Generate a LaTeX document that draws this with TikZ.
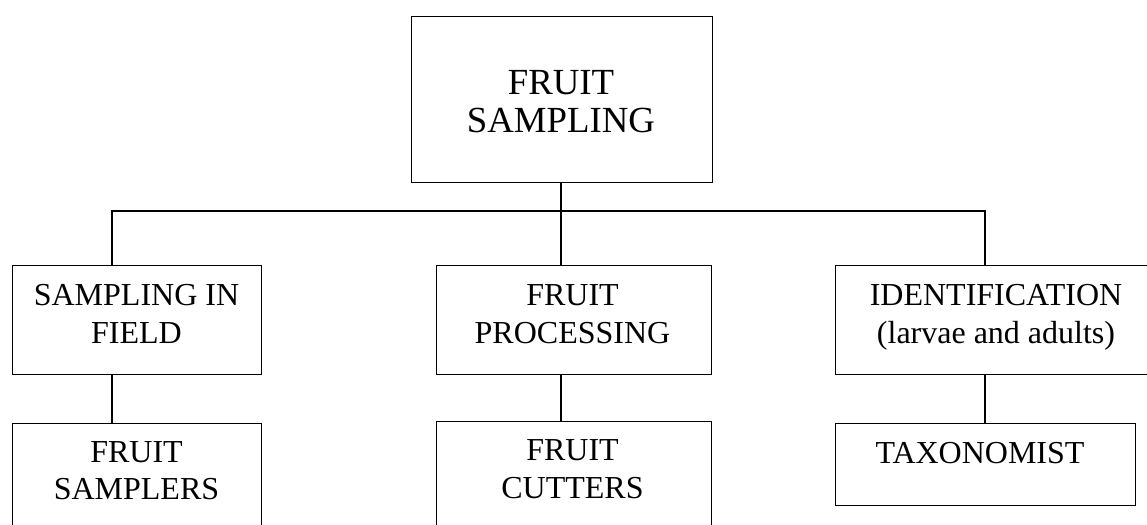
\documentclass[tikz,border=0pt]{standalone}
\usepackage{fontspec}
\setmainfont{Liberation Serif}
\begin{document}
\begin{tikzpicture}[x=0.5pt,y=-0.5pt,
  box/.style={draw, line width=0.7pt, inner sep=0pt, anchor=north west},
  conn/.style={draw, line width=0.7pt},
  big/.style={anchor=base, inner sep=0pt, font=\fontsize{18.4}{20}\selectfont},
  txt/.style={anchor=base, inner sep=0pt, font=\fontsize{16}{19}\selectfont}]
\useasboundingbox (0,0) rectangle (1147,525);
\clip (0,0) rectangle (1147,525);
% boxes
\node[box, minimum width=150.5pt, minimum height=83pt] (T) at (411,16) {};
\node[box, minimum width=124.5pt, minimum height=54.5pt] (b1) at (12,265) {};
\node[box, minimum width=137.5pt, minimum height=54.5pt] (b2) at (436,265) {};
\node[box, minimum width=165pt, minimum height=54.5pt] (b3) at (835,265) {};
\node[box, minimum width=124.5pt, minimum height=65pt] (b4) at (12,423) {};
\node[box, minimum width=137.5pt, minimum height=66pt] (b5) at (436,421) {};
\node[box, minimum width=150pt, minimum height=41pt] (b6) at (835,423) {};
% texts
\node[big] (tTa) at (561,94) {FRUIT};
\node[big] (tTb) at (561,132) {SAMPLING};
\node[txt] (t1a) at (136.5,305) {SAMPLING IN};
\node[txt] (t1b) at (136.5,343) {FIELD};
\node[txt] (t2a) at (572.5,305) {FRUIT};
\node[txt] (t2b) at (572.5,343) {PROCESSING};
\node[txt] (t3a) at (996,305) {IDENTIFICATION};
\node[txt] (t3b) at (996,343) {(larvae and adults)};
\node[txt] (t4a) at (136.5,462) {FRUIT};
\node[txt] (t4b) at (136.5,499) {SAMPLERS};
\node[txt] (t5a) at (572.5,460) {FRUIT};
\node[txt] (t5b) at (572.5,498) {CUTTERS};
\node[txt] (t6a) at (980,463) {TAXONOMIST};
% connectors
\coordinate (j) at (561,211);
\coordinate (c1) at (112,211);
\coordinate (c3) at (985,211);
\draw[conn] (T.south -| j) -- (j);
\draw[conn] (b1.north -| c1) -- (c1) -- (c3) -- (b3.north -| c3);
\draw[conn] (j) -- (b2.north -| j);
\draw[conn] (b1.south -| c1) -- (b4.north -| c1);
\draw[conn] (b2.south -| j) -- (b5.north -| j);
\draw[conn] (b3.south -| c3) -- (b6.north -| c3);
\end{tikzpicture}
\end{document}
